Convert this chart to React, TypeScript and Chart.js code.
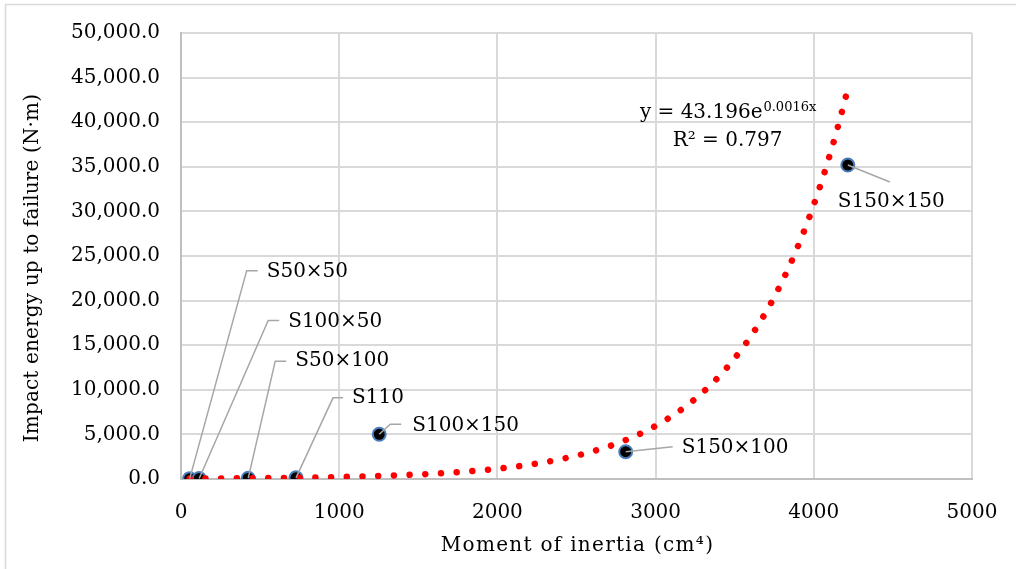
import React, { useEffect, useRef } from "react";
import { Chart, registerables } from "chart.js";

Chart.register(...registerables);

// ---- data ----
const sectionLabels = ["S50×50", "S100×50", "S50×100", "S110", "S100×150", "S150×100", "S150×150"];
const inertia = [55, 115, 425, 727, 1253, 2811, 4215];
const energy = [40, 60, 90, 130, 5010, 3060, 35200];

const xTicks = [0, 1000, 2000, 3000, 4000, 5000];
const yTicks = [0, 5000, 10000, 15000, 20000, 25000, 30000, 35000, 40000, 45000, 50000];

// exponential trendline y = a·e^(b·x) (coefficients as displayed on the chart, b unrounded)
const trendA = 43.196;
const trendB = 0.001642;
const trendStep = 10;
const equationText = "y = 43.196e";
const equationExp = "0.0016x";
const r2Text = "R² = 0.797";
const equationAt = { x: 3455, y: 40465 };

const xTitle = "Moment of inertia (cm⁴)";
const yTitle = "Impact energy up to failure (N·m)";

// label layout (pixel offsets from each point): text anchor + leader path
const labelLayout = [
  { tx: 77, ty: -207, path: [[57, -208], [68, -208]] },
  { tx: 89, ty: -157, path: [[69, -158], [80, -158]] },
  { tx: 47, ty: -117, path: [[27, -117], [38, -117]] },
  { tx: 56, ty: -80, path: [[37, -80], [47, -80]] },
  { tx: 33, ty: -9, path: [[11, -10], [22, -10]] },
  { tx: 56, ty: -4, path: [[47, -5]] },
  { tx: -10, ty: 37, path: [[42, 17]] },
];

const FONT = "'DejaVu Serif', 'Liberation Serif', serif";

function buildTrend() {
  const lo = Math.min(...inertia);
  const hi = Math.max(...inertia);
  const pts: { x: number; y: number }[] = [];
  for (let x = lo; x < hi; x += trendStep) pts.push({ x, y: trendA * Math.exp(trendB * x) });
  pts.push({ x: hi, y: trendA * Math.exp(trendB * hi) });
  return pts;
}

const overlayPlugin = {
  id: "overlay",
  beforeDraw(chart: any) {
    const ctx = chart.ctx;
    ctx.save();
    ctx.strokeStyle = "#d9d9d9";
    ctx.lineWidth = 1.5;
    ctx.beginPath();
    ctx.moveTo(5.5, chart.height + 5);
    ctx.lineTo(5.5, 4.5);
    ctx.lineTo(chart.width + 5, 4.5);
    ctx.stroke();
    ctx.restore();
  },
  afterDatasetsDraw(chart: any) {
    const ctx = chart.ctx;
    const xs = chart.scales.x;
    const ys = chart.scales.y;
    ctx.save();
    // leader lines
    ctx.strokeStyle = "#a6a6a6";
    ctx.lineWidth = 1.5;
    sectionLabels.forEach((_, i) => {
      const px = xs.getPixelForValue(inertia[i]);
      const py = ys.getPixelForValue(energy[i]);
      const lay = labelLayout[i];
      ctx.beginPath();
      ctx.moveTo(px, py);
      lay.path.forEach(([dx, dy]) => ctx.lineTo(px + dx, py + dy));
      ctx.stroke();
    });
    // labels
    ctx.fillStyle = "#000";
    ctx.font = `20px ${FONT}`;
    ctx.textAlign = "left";
    ctx.textBaseline = "middle";
    sectionLabels.forEach((lab, i) => {
      const px = xs.getPixelForValue(inertia[i]);
      const py = ys.getPixelForValue(energy[i]);
      const lay = labelLayout[i];
      ctx.fillText(lab, px + lay.tx, py + lay.ty);
    });
    // equation
    const ex = xs.getPixelForValue(equationAt.x);
    const ey = ys.getPixelForValue(equationAt.y);
    ctx.textBaseline = "alphabetic";
    ctx.font = `20px ${FONT}`;
    const w1 = ctx.measureText(equationText).width;
    ctx.font = `13px ${FONT}`;
    const w2 = ctx.measureText(equationExp).width;
    const start = ex - (w1 + w2) / 2;
    ctx.font = `20px ${FONT}`;
    ctx.fillText(equationText, start, ey);
    ctx.font = `13px ${FONT}`;
    ctx.fillText(equationExp, start + w1 + 1, ey - 7);
    ctx.font = `20px ${FONT}`;
    ctx.textAlign = "center";
    ctx.fillText(r2Text, ex, ey + 28);
    // axis titles
    const ca = chart.chartArea;
    (ctx as any).letterSpacing = "1.3px";
    ctx.fillText(xTitle, (ca.left + ca.right) / 2 + 1, 551);
    (ctx as any).letterSpacing = "0.15px";
    ctx.translate(33, 268);
    ctx.rotate(-Math.PI / 2);
    ctx.textBaseline = "middle";
    ctx.fillText(yTitle, 0, 0);
    (ctx as any).letterSpacing = "0px";
    ctx.restore();
  },
};

export default function App() {
  const ref = useRef<HTMLCanvasElement | null>(null);
  useEffect(() => {
    if (!ref.current) return;
    const chart = new Chart(ref.current, {
      type: "scatter",
      data: {
        datasets: [
          {
            label: "trend",
            data: buildTrend(),
            showLine: true,
            pointRadius: 0,
            borderColor: "#ff0000",
            borderWidth: 6.5,
            borderDash: [0.01, 15.7],
            borderCapStyle: "round",
            tension: 0,
            order: 0,
          } as any,
          {
            label: "data",
            data: inertia.map((x, i) => ({ x, y: energy[i] })),
            pointRadius: 6.5,
            pointBackgroundColor: "#000000",
            pointBorderColor: "#4a7ebb",
            pointBorderWidth: 2,
            order: 1,
          },
        ],
      },
      options: {
        animation: false,
        responsive: false,
        devicePixelRatio: 1,
        layout: { padding: { top: 33, right: 44, left: 0, bottom: 0 } },
        plugins: { legend: { display: false }, tooltip: { enabled: false } },
        scales: {
          x: {
            type: "linear",
            min: xTicks[0],
            max: xTicks[xTicks.length - 1],
            afterFit: (s: any) => {
              s.height = 90;
              s.paddingLeft = 0;
              s.paddingRight = 0;
            },
            afterBuildTicks: (s: any) => { s.ticks = xTicks.map((v) => ({ value: v })); },
            ticks: {
              callback: (v: any) => String(v),
              font: { family: FONT, size: 20 },
              color: "#000",
              padding: 22,
              maxRotation: 0,
            },
            grid: { color: "#d9d9d9", lineWidth: 2, drawTicks: false },
            border: { color: "#bfbfbf", width: 2 },
          },
          y: {
            type: "linear",
            min: yTicks[0],
            max: yTicks[yTicks.length - 1],
            afterFit: (s: any) => {
              s.width = 181;
              s.paddingTop = 0;
              s.paddingBottom = 0;
            },
            afterBuildTicks: (s: any) => { s.ticks = yTicks.map((v) => ({ value: v })); },
            ticks: {
              callback: (v: any) =>
                Number(v).toLocaleString("en-US", { minimumFractionDigits: 1, maximumFractionDigits: 1 }),
              font: { family: FONT, size: 20 },
              color: "#000",
              padding: 21,
            },
            grid: { color: "#d9d9d9", lineWidth: 2, drawTicks: false },
            border: { color: "#bfbfbf", width: 2 },
          },
        },
      },
      plugins: [overlayPlugin],
    });
    return () => chart.destroy();
  }, []);
  return (
    <div style={{ position: "fixed", left: 0, top: 0, width: 1016, height: 569, background: "#fff" }}>
      <canvas ref={ref} width={1016} height={569} style={{ width: 1016, height: 569, display: "block" }} />
    </div>
  );
}
